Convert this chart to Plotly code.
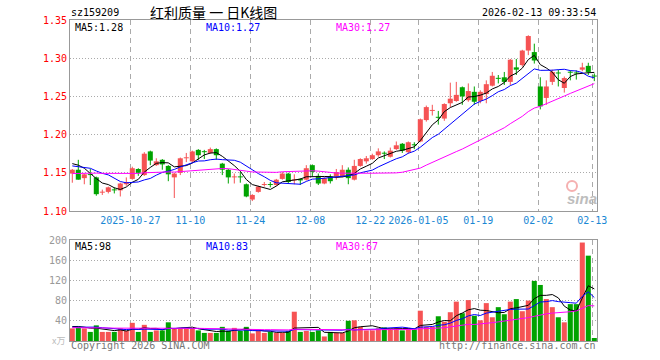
import pandas as pd
import plotly.graph_objects as go

# ---------------- data ----------------
_days = pd.bdate_range("2025-10-13", "2026-02-13")
dates = [d.strftime("%Y-%m-%d") for d in _days if d.strftime("%Y-%m-%d") not in ("2026-01-01", "2026-01-02")]

opens = [1.149, 1.154, 1.143, 1.148, 1.144, 1.124, 1.125, 1.128, 1.127, 1.135,
         1.142, 1.155, 1.147, 1.178, 1.160, 1.167, 1.159, 1.144, 1.150, 1.169,
         1.165, 1.180, 1.178, 1.176, 1.181, 1.162, 1.154, 1.144, 1.145, 1.135,
         1.115, 1.125, 1.134, 1.135, 1.134, 1.142, 1.149, 1.140, 1.142, 1.141,
         1.160, 1.146, 1.136, 1.145, 1.145, 1.145, 1.154, 1.141, 1.159, 1.165,
         1.168, 1.173, 1.176, 1.171, 1.181, 1.188, 1.177, 1.187, 1.191, 1.219,
         1.231, 1.223, 1.221, 1.241, 1.244, 1.262, 1.245, 1.256, 1.244, 1.253,
         1.264, 1.274, 1.275, 1.269, 1.288, 1.291, 1.310, 1.308, 1.263, 1.248,
         1.269, 1.281, 1.261, 1.282, 1.281, 1.285, 1.290, 1.277]
highs = [1.155, 1.167, 1.149, 1.155, 1.145, 1.128, 1.132, 1.131, 1.137, 1.144,
         1.158, 1.156, 1.177, 1.179, 1.169, 1.168, 1.160, 1.150, 1.170, 1.176,
         1.179, 1.181, 1.180, 1.183, 1.182, 1.163, 1.155, 1.149, 1.151, 1.136,
         1.122, 1.133, 1.138, 1.138, 1.142, 1.151, 1.150, 1.148, 1.143, 1.160,
         1.161, 1.149, 1.144, 1.148, 1.155, 1.160, 1.157, 1.167, 1.169, 1.172,
         1.175, 1.182, 1.178, 1.183, 1.191, 1.189, 1.191, 1.190, 1.221, 1.238,
         1.239, 1.231, 1.241, 1.268, 1.269, 1.263, 1.267, 1.263, 1.258, 1.271,
         1.282, 1.278, 1.282, 1.299, 1.299, 1.311, 1.330, 1.319, 1.275, 1.271,
         1.285, 1.285, 1.276, 1.284, 1.284, 1.294, 1.294, 1.280]
lows = [1.137, 1.141, 1.135, 1.134, 1.120, 1.121, 1.123, 1.123, 1.119, 1.133,
        1.141, 1.146, 1.146, 1.160, 1.159, 1.154, 1.139, 1.117, 1.147, 1.164,
        1.163, 1.167, 1.168, 1.175, 1.167, 1.147, 1.136, 1.136, 1.137, 1.118,
        1.113, 1.124, 1.132, 1.131, 1.133, 1.141, 1.136, 1.135, 1.134, 1.140,
        1.145, 1.134, 1.135, 1.136, 1.141, 1.144, 1.135, 1.140, 1.158, 1.162,
        1.167, 1.171, 1.168, 1.170, 1.180, 1.176, 1.175, 1.181, 1.190, 1.217,
        1.225, 1.213, 1.218, 1.236, 1.243, 1.239, 1.243, 1.239, 1.241, 1.241,
        1.263, 1.267, 1.265, 1.265, 1.278, 1.289, 1.304, 1.293, 1.233, 1.239,
        1.265, 1.263, 1.255, 1.271, 1.272, 1.283, 1.278, 1.270]
closes = [1.154, 1.141, 1.148, 1.147, 1.122, 1.125, 1.131, 1.127, 1.136, 1.138,
          1.156, 1.150, 1.175, 1.166, 1.165, 1.161, 1.148, 1.149, 1.169, 1.170,
          1.178, 1.173, 1.177, 1.181, 1.173, 1.154, 1.144, 1.145, 1.144, 1.119,
          1.121, 1.132, 1.135, 1.134, 1.141, 1.149, 1.138, 1.141, 1.140, 1.156,
          1.151, 1.136, 1.143, 1.139, 1.151, 1.154, 1.143, 1.159, 1.168, 1.169,
          1.173, 1.178, 1.175, 1.179, 1.186, 1.179, 1.190, 1.186, 1.220, 1.236,
          1.232, 1.222, 1.240, 1.247, 1.252, 1.250, 1.257, 1.243, 1.256, 1.266,
          1.277, 1.273, 1.269, 1.298, 1.285, 1.310, 1.329, 1.297, 1.237, 1.263,
          1.282, 1.280, 1.274, 1.281, 1.280, 1.288, 1.282, 1.276]
volumes = [25, 28, 25, 18, 31, 18, 18, 18, 25, 20,
           36, 18, 32, 18, 21, 21, 37, 25, 25, 25,
           25, 21, 16, 16, 16, 28, 20, 26, 20, 28,
           15, 20, 16, 18, 16, 16, 20, 58, 18, 20,
           18, 21, 9, 18, 16, 16, 40, 41, 28, 21,
           21, 25, 27, 25, 25, 21, 25, 23, 60, 28,
           28, 49, 38, 57, 78, 55, 81, 50, 41, 75,
           47, 67, 53, 78, 83, 59, 80, 119, 111, 83,
           67, 47, 37, 73, 73, 195, 169, 6]

# closes / volumes of the 29 sessions before the first visible day (only feed the moving averages)
prev_closes = [1.132, 1.136, 1.134, 1.138, 1.135, 1.133, 1.137, 1.136, 1.134,
               1.148, 1.152, 1.150, 1.155, 1.153, 1.149, 1.151, 1.154, 1.150, 1.152, 1.151,
               1.154, 1.158, 1.155, 1.157, 1.156,
               1.151, 1.168, 1.182, 1.155]
prev_volumes = [24, 28, 22, 30, 26, 25, 27, 23, 29, 26, 24, 27, 25, 28, 26,
                23, 27, 25, 29, 24, 26, 22, 27, 25, 30, 27, 32, 28, 31]

tick_dates = ["2025-10-27", "2025-11-10", "2025-11-24", "2025-12-08", "2025-12-22",
              "2026-01-05", "2026-01-19", "2026-02-02", "2026-02-13"]
tick_text = ["2025-10-27", "11-10", "11-24", "12-08", "12-22",
             "2026-01-05", "01-19", "02-02", "02-13"]
price_ticks = [1.10, 1.15, 1.20, 1.25, 1.30, 1.35]
volume_ticks = [40, 80, 120, 160, 200]

code = "sz159209"
title = "红利质量 一 日K线图"
stamp = "2026-02-13 09:33:54"
price_ma_labels = ["MA5:1.28", "MA10:1.27", "MA30:1.27"]
volume_ma_labels = ["MA5:98", "MA10:83", "MA30:67"]

# ---------------- derived ----------------
n = len(dates)
idx = list(range(n))
c_all = pd.Series(prev_closes + closes)
v_all = pd.Series(prev_volumes + volumes)
ma = {k: c_all.rolling(k).mean().iloc[-n:].tolist() for k in (5, 10, 30)}
vma = {k: v_all.rolling(k).mean().iloc[-n:].tolist() for k in (5, 10, 30)}

RED = "#f65354"
GREEN = "#00a300"
MA_COL = {5: "#000000", 10: "#0000ff", 30: "#ff00ff"}
MONO = "DejaVu Sans Mono"

fig = go.Figure()

for up, col in ((True, RED), (False, GREEN)):
    sel = [i for i in idx if (closes[i] >= opens[i]) == up]
    # wicks
    wx, wy = [], []
    for i in sel:
        wx += [i, i, None]
        wy += [lows[i], highs[i], None]
    fig.add_trace(go.Scatter(x=wx, y=wy, mode="lines", line=dict(color=col, width=1),
                             xaxis="x", yaxis="y", hoverinfo="skip"))
    # bodies
    fig.add_trace(go.Bar(x=sel,
                         base=[min(opens[i], closes[i]) for i in sel],
                         y=[max(abs(closes[i] - opens[i]), 0.0013) for i in sel],
                         width=0.84, marker=dict(color=col, line=dict(width=0)),
                         xaxis="x", yaxis="y", hoverinfo="skip"))
    # volume
    fig.add_trace(go.Bar(x=sel, y=[volumes[i] for i in sel], width=0.84,
                         marker=dict(color=col, line=dict(width=0)),
                         xaxis="x2", yaxis="y2", hoverinfo="skip"))

for k in (5, 10, 30):
    fig.add_trace(go.Scatter(x=idx, y=ma[k], mode="lines", line=dict(color=MA_COL[k], width=1),
                             xaxis="x", yaxis="y", hoverinfo="skip"))
    fig.add_trace(go.Scatter(x=idx, y=vma[k], mode="lines", line=dict(color=MA_COL[k], width=1),
                             xaxis="x2", yaxis="y2", hoverinfo="skip"))

# ---------------- layout ----------------
L, R, T, B = 70, 597, 20, 341
W, H = 660, 360
def px(x):
    return (x - L) / (R - L)
def py(y):
    return (B - y) / (B - T)

x_range = [(L - 72.3) / 6.0, (R - 72.3) / 6.0]
tick_pos = [dates.index(d) - 0.33 for d in tick_dates]

grid_common = dict(showline=True, mirror=True, linecolor="#999999", linewidth=1,
                   zeroline=False, showgrid=True, gridcolor="#aaaaaa", gridwidth=1, ticks="")

fig.update_layout(
    width=W, height=H, margin=dict(l=L, r=W - R, t=T, b=H - B),
    paper_bgcolor="white", plot_bgcolor="white", showlegend=False,
    barmode="overlay", hovermode=False,
    xaxis=dict(domain=[0, 1], anchor="y", range=x_range, tickmode="array",
               tickvals=tick_pos, ticktext=tick_text, griddash="5px,4px",
               tickfont=dict(family=MONO, size=10, color="#1a88d4"), **grid_common),
    xaxis2=dict(domain=[0, 1], anchor="y2", range=x_range, tickmode="array",
                tickvals=tick_pos, showticklabels=False, griddash="5px,4px", **grid_common),
    yaxis=dict(domain=[py(211), 1], anchor="x", range=[1.10, 1.35], tickmode="array",
               tickvals=price_ticks, ticktext=[f"{v:.2f}" for v in price_ticks],
               griddash="1px,2px", tickfont=dict(family=MONO, size=10, color="#ff0000"),
               **grid_common),
    yaxis2=dict(domain=[0, py(240)], anchor="x2", range=[0, 200], tickmode="array",
                tickvals=volume_ticks, ticktext=[str(v) for v in volume_ticks],
                griddash="1px,2px", tickfont=dict(family=MONO, size=10, color="#999999"),
                **grid_common),
)

def note(text, x, y, xanchor="left", color="#000000", size=10, family=MONO, **kw):
    fig.add_annotation(text=text, x=px(x), y=py(y), xref="paper", yref="paper",
                       xanchor=xanchor, yanchor="middle", showarrow=False,
                       font=dict(family=family, size=size, color=color), **kw)

note(code, 69, 12)
note(title, 213, 12, xanchor="center", size=14, family="Noto Sans CJK SC")
note(stamp, 598, 12, xanchor="right")
for lab, x0, k in zip(price_ma_labels, (73, 204, 334), (5, 10, 30)):
    note(lab, x0, 27, color=MA_COL[k])
for lab, x0, k in zip(volume_ma_labels, (73, 204, 334), (5, 10, 30)):
    note(lab, x0, 246, color=MA_COL[k])
note("x万", 67, 340, xanchor="right", color="#bbbbbb", size=9, family="Noto Sans CJK SC")
note("Copyright 2026 SINA.COM", 69, 346, color="#777777")
note("http://finance.sina.com.cn", 598, 346, xanchor="right", color="#777777")
note("<b><i>sina</i></b>", 582, 199, xanchor="center", color="#bdbdbd", size=15, family="Liberation Sans")
fig.add_shape(type="circle", xref="paper", yref="paper",
              x0=px(567), x1=px(577), y0=py(191), y1=py(181),
              line=dict(color="#f5b0b0", width=2))

fig.write_html("out.html",
               config={"displayModeBar": False, "staticPlot": True},
               post_script="document.body.style.margin='0';document.body.style.overflow='hidden';")
